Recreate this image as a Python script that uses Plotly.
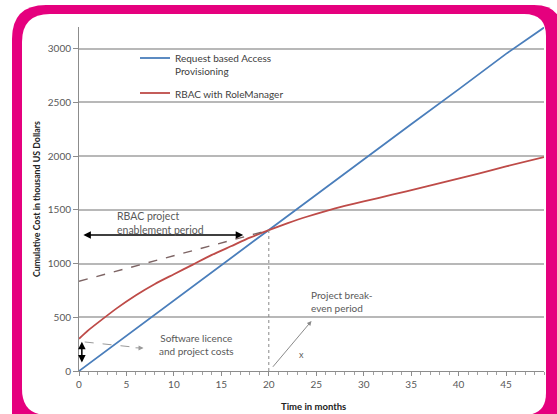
import plotly.graph_objects as go

# ---------------- data ----------------
months_blue = [0, 5, 10, 15, 20, 25, 30, 35, 40, 45, 49]
cost_blue = [0, 330, 660, 985, 1312, 1640, 1970, 2295, 2620, 2950, 3195]

months_red = [0, 1, 2, 4, 6, 8, 10, 12, 14, 16, 18, 20, 22, 24, 26, 28, 30, 33, 36, 39, 42, 45, 49]
cost_red = [300, 380, 450, 585, 705, 810, 900, 990, 1080, 1160, 1240, 1310, 1375, 1435,
            1488, 1535, 1577, 1640, 1703, 1768, 1834, 1903, 1990]

months_dash = [0, 20]
cost_dash = [835, 1310]

breakeven_month = 20
breakeven_cost = 1310

y_ticks = [0, 500, 1000, 1500, 2000, 2500, 3000]
x_ticks = [0, 5, 10, 15, 20, 25, 30, 35, 40, 45]

name_blue = "Request based Access<br>Provisioning"
name_red = "RBAC with RoleManager"

# ---------------- layout geometry (pixels) ----------------
W, H = 557, 414
L, R, T, B = 79, 544, 27, 371
FONT = "Lato, Carlito, Calibri, sans-serif"
MAGENTA = "#E5007E"
GRAY_TXT = "#595959"


def px(xp):
    return (xp - L) / (R - L)


def py(yp):
    return (B - yp) / (B - T)


def rrect(x0, y0, x1, y1, tl, tr, br, bl):
    pts = []
    pts.append(f"M {px(x0 + tl)},{py(y0)}")
    pts.append(f"L {px(x1 - tr)},{py(y0)}")
    pts.append(f"Q {px(x1)},{py(y0)} {px(x1)},{py(y0 + tr)}")
    pts.append(f"L {px(x1)},{py(y1 - br)}")
    pts.append(f"Q {px(x1)},{py(y1)} {px(x1 - br)},{py(y1)}")
    pts.append(f"L {px(x0 + bl)},{py(y1)}")
    pts.append(f"Q {px(x0)},{py(y1)} {px(x0)},{py(y1 - bl)}")
    pts.append(f"L {px(x0)},{py(y0 + tl)}")
    pts.append(f"Q {px(x0)},{py(y0)} {px(x0 + tl)},{py(y0)}")
    pts.append("Z")
    return " ".join(pts)


fig = go.Figure()

fig.add_trace(go.Scatter(
    x=months_blue, y=cost_blue, mode="lines", name=name_blue,
    line=dict(color="#4A7EBB", width=1.8), legendgroup="a"))
fig.add_trace(go.Scatter(
    x=months_red, y=cost_red, mode="lines", name=name_red,
    line=dict(color="#BE4B48", width=1.8, shape="spline", smoothing=0.6), legendgroup="b"))
fig.add_trace(go.Scatter(
    x=months_dash, y=cost_dash, mode="lines", showlegend=False,
    line=dict(color="#7D6464", width=1.4, dash="dash")))
fig.add_trace(go.Scatter(
    x=[breakeven_month, breakeven_month], y=[0, breakeven_cost], mode="lines",
    showlegend=False, line=dict(color="#888888", width=1, dash="dot")))

shapes = [
    dict(type="path", xref="paper", yref="paper", layer="below",
         path=rrect(12, 5, 562, 470, 34, 28, 0, 0),
         fillcolor=MAGENTA, line=dict(width=0)),
    dict(type="path", xref="paper", yref="paper", layer="below",
         path=rrect(22, 14, 546, 415, 28, 22, 22, 26),
         fillcolor="white", line=dict(width=0)),
    # dashed pointer for software costs
    dict(type="line", xref="x", yref="y", x0=0.6, y0=270, x1=6.0, y1=220,
         line=dict(color="#9A9A9A", width=1, dash="dash")),
]

annotations = [
    # enablement period double arrow
    dict(x=17.3, y=1265, ax=0.3, ay=1265, xref="x", yref="y", axref="x", ayref="y",
         text="", showarrow=True, arrowhead=2, startarrowhead=2, arrowside="end+start",
         arrowsize=1, startarrowsize=1, arrowwidth=1.5, arrowcolor="black"),
    dict(x=3.8, y=1380, xref="x", yref="y", xanchor="left", yanchor="middle",
         text="RBAC project<br>enablement period", showarrow=False, align="left",
         font=dict(family=FONT, size=10.5, color=GRAY_TXT)),
    # software licence arrow
    dict(x=0.3, y=80, ax=0.3, ay=285, xref="x", yref="y", axref="x", ayref="y",
         text="", showarrow=True, arrowhead=2, startarrowhead=2, arrowside="end+start",
         arrowsize=1, startarrowsize=1, arrowwidth=1.5, arrowcolor="black"),
    dict(x=6.8, y=214, ax=5.8, ay=216, xref="x", yref="y", axref="x", ayref="y",
         text="", showarrow=True, arrowhead=2, arrowsize=1, arrowwidth=1,
         arrowcolor="#9A9A9A"),
    dict(x=12.4, y=248, xref="x", yref="y", xanchor="center", yanchor="middle",
         text="Software licence<br>and project costs", showarrow=False, align="center",
         font=dict(family=FONT, size=10, color=GRAY_TXT)),
    # break-even
    dict(x=24.5, y=465, ax=20.3, ay=25, xref="x", yref="y", axref="x", ayref="y",
         text="", showarrow=True, arrowhead=2, arrowsize=0.9, arrowwidth=1,
         arrowcolor="#8A8A8A"),
    dict(x=24.2, y=648, xref="x", yref="y", xanchor="left", yanchor="middle",
         text="Project break-<br>even period", showarrow=False, align="left",
         font=dict(family=FONT, size=10, color=GRAY_TXT)),
    dict(x=23.4, y=150, xref="x", yref="y", xanchor="center", yanchor="middle",
         text="x", showarrow=False, font=dict(family=FONT, size=9, color=GRAY_TXT)),
    # axis titles
    dict(x=px(313), y=py(406), xref="paper", yref="paper", xanchor="center",
         yanchor="middle", text="<b>Time in months</b>", showarrow=False,
         font=dict(family=FONT, size=9.5, color="#222222")),
    dict(x=px(36), y=py(199), xref="paper", yref="paper", xanchor="center",
         yanchor="middle", text="<b>Cumulative Cost in thousand US Dollars</b>",
         showarrow=False, textangle=-90,
         font=dict(family=FONT, size=8.8, color="#222222")),
]

fig.update_layout(
    width=W, height=H,
    margin=dict(l=L, r=W - R, t=T, b=H - B, autoexpand=False),
    paper_bgcolor="white", plot_bgcolor="rgba(0,0,0,0)",
    font=dict(family=FONT, size=10, color=GRAY_TXT),
    shapes=shapes, annotations=annotations,
    showlegend=True,
    legend=dict(x=px(135), y=py(45), xanchor="left", yanchor="top",
                bgcolor="rgba(0,0,0,0)", font=dict(family=FONT, size=10, color="#404040"),
                valign="top", tracegroupgap=6, itemwidth=30),
    xaxis=dict(range=[0, 49], tickvals=x_ticks, showgrid=False, zeroline=False,
               showline=True, linecolor="#8C8C8C", linewidth=1,
               ticks="outside", ticklen=4, tickcolor="#8C8C8C",
               minor=dict(dtick=1, ticks="outside", ticklen=3, tickcolor="#A0A0A0"),
               tickfont=dict(family=FONT, size=10, color=GRAY_TXT)),
    yaxis=dict(range=[0, 3200], tickvals=y_ticks, showgrid=True, gridcolor="#B8B8B8",
               gridwidth=1.5, zeroline=False, showline=True, linecolor="#8C8C8C",
               linewidth=1, ticks="outside", ticklen=5, tickcolor="#8C8C8C",
               tickfont=dict(family=FONT, size=10, color=GRAY_TXT)),
)

fig.write_html("out.html", config={"displayModeBar": False},
               post_script="document.body.style.margin='0';document.body.style.overflow='hidden';")
